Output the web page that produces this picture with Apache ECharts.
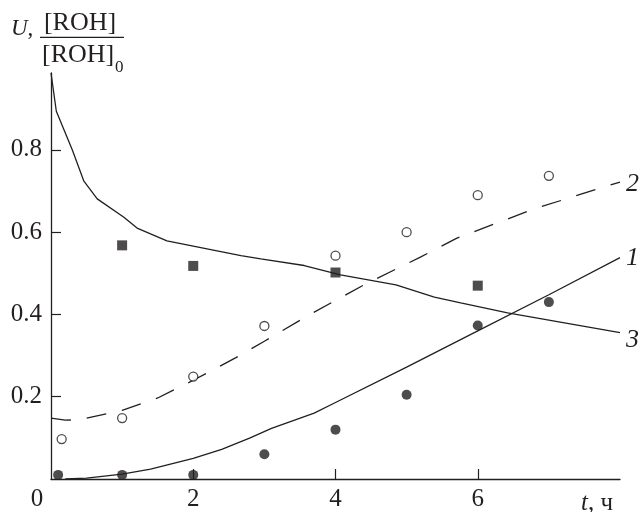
<!DOCTYPE html>
<html>
<head>
<meta charset="utf-8">
<script src="https://cdn.jsdelivr.net/npm/echarts@6/dist/echarts.min.js"></script>
<style>html,body{margin:0;padding:0;background:#fff}#c{width:641px;height:512px}</style>
</head>
<body>
<div id="c"></div>
<script>
// Experimental points
const filledCircles = [[0.1,0.01],[1,0.01],[2,0.01],[3,0.06],[4,0.12],[5,0.205],[6,0.373],[7,0.43]];
const openCircles = [[0.15,0.097],[1,0.148],[2,0.249],[3,0.372],[4,0.543],[5,0.600],[6,0.69],[7,0.737]];
const squares = [[1,0.568],[2,0.518],[4,0.502],[6,0.47]];
// Fitted curves
const curve1 = [[0.2,0],[0.5,0.002],[1,0.012],[1.4,0.024],[2,0.05],[2.4,0.072],[2.8,0.1],[3.1,0.123],[3.7,0.16],[4,0.186],[5,0.272],[6,0.36],[7,0.448],[8,0.538]];
const curve2 = [[0,0.148],[0.2,0.143],[0.4,0.144],[1,0.167],[1.5,0.197],[2,0.24],[2.6,0.295],[3,0.335],[3.6,0.396],[4.4,0.472],[5.2,0.54],[5.7,0.585],[6.8,0.657],[8,0.722]];
const curve3 = [[0,0.987],[0.075,0.894],[0.3,0.80],[0.46,0.725],[0.65,0.681],[1.02,0.637],[1.21,0.61],[1.63,0.579],[2.67,0.543],[2.95,0.535],[3.56,0.519],[4.07,0.496],[4.85,0.472],[5.39,0.442],[5.76,0.428],[6.42,0.404],[8,0.356]];
const xTickValues = [2,4,6];
const xLabelValues = [0,2,4,6];
const yTickValues = [0.2,0.4,0.6,0.8];
const curveNames = ['1','2','3'];

const INK = '#231f20';
const SERIF = '"Liberation Serif", "DejaVu Serif", serif';

const chart = echarts.init(document.getElementById('c'), null, {renderer:'canvas'});

function lineSeries(data, name, dashed, off) {
  return {
    type: 'line', data: data, symbol: 'none', smooth: false, silent: true,
    lineStyle: {color: INK, width: 1.3, type: dashed ? [20, 16] : 'solid'},
    endLabel: {show: true, formatter: name, fontFamily: SERIF, fontStyle: 'italic',
      fontSize: 26, color: INK, distance: 6, offset: off},
    z: 2
  };
}

chart.setOption({
  animation: false,
  backgroundColor: '#fff',
  grid: {left: 51, right: 21, top: 73, bottom: 29.4, containLabel: false},
  xAxis: {
    type: 'value', min: 0, max: 8,
    axisLine: {show: true, lineStyle: {color: INK, width: 1.3}},
    axisTick: {show: true, inside: true, length: 10, lineStyle: {color: INK, width: 1.2}, customValues: xTickValues},
    axisLabel: {show: true, margin: 8, color: INK, fontFamily: SERIF, fontSize: 25,
      customValues: xLabelValues,
      formatter: v => v === 0 ? '{z|0}' : String(v),
      rich: {z: {padding: [0, 28, 0, 0], fontFamily: SERIF, fontSize: 25, color: INK}}},
    splitLine: {show: false}
  },
  yAxis: {
    type: 'value', min: 0, max: 0.987,
    axisLine: {show: true, lineStyle: {color: INK, width: 1.3}},
    axisTick: {show: true, inside: true, length: 10, lineStyle: {color: INK, width: 1.2}, customValues: yTickValues},
    axisLabel: {show: true, margin: 9, color: INK, fontFamily: SERIF, fontSize: 25,
      customValues: yTickValues, formatter: v => v.toFixed(1)},
    splitLine: {show: false}
  },
  series: [
    lineSeries(curve1, curveNames[0], false, [0, 0]),
    lineSeries(curve2, curveNames[1], true, [0, 2]),
    lineSeries(curve3, curveNames[2], false, [0, 8]),
    {type: 'scatter', data: filledCircles, symbol: 'circle', symbolSize: 10,
      itemStyle: {color: INK}, z: 3},
    {type: 'scatter', data: openCircles, symbol: 'circle', symbolSize: 9,
      itemStyle: {color: '#fff', borderColor: INK, borderWidth: 1.3}, z: 3},
    {type: 'scatter', data: squares, symbol: 'rect', symbolSize: 10,
      itemStyle: {color: INK}, z: 3}
  ],
  graphic: [
    {type: 'text', left: 11, top: 17, style: {text: '{i|U},', rich: {i: {fontStyle: 'italic', fontFamily: SERIF, fontSize: 23, fill: INK}},
      fontFamily: SERIF, fontSize: 23, fill: INK}},
    {type: 'text', x: 80, y: 23, style: {text: '[ROH]', fontFamily: SERIF, fontSize: 26, fill: INK, align: 'center', verticalAlign: 'middle'}},
    {type: 'line', shape: {x1: 40, y1: 37.3, x2: 124, y2: 37.3}, style: {stroke: INK, lineWidth: 1.3}},
    {type: 'text', x: 42, y: 55.5, style: {text: '[ROH]', fontFamily: SERIF, fontSize: 26, fill: INK, align: 'left', verticalAlign: 'middle'}},
    {type: 'text', x: 115, y: 68, style: {text: '0', fontFamily: SERIF, fontSize: 17, fill: INK, align: 'left', verticalAlign: 'middle'}},
    {type: 'text', x: 581, y: 503, style: {text: '{i|t}, ч', rich: {i: {fontStyle: 'italic', fontFamily: SERIF, fontSize: 25, fill: INK}},
      fontFamily: SERIF, fontSize: 25, fill: INK, align: 'left', verticalAlign: 'middle'}}
  ]
});
</script>
</body>
</html>
